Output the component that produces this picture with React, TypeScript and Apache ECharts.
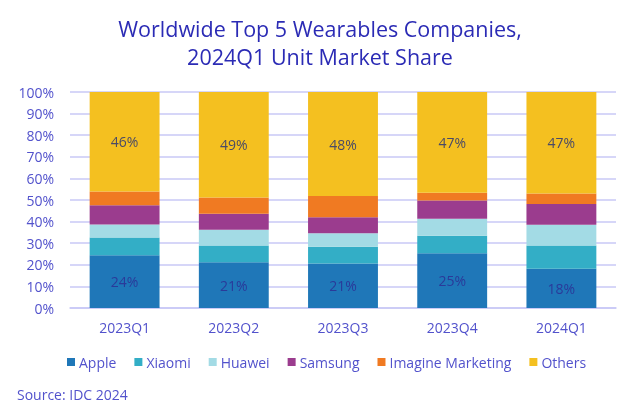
import React, { useEffect, useRef } from "react";
import * as echarts from "echarts";

const categories = ["2023Q1", "2023Q2", "2023Q3", "2023Q4", "2024Q1"];
const apple = [24.4, 21.2, 20.6, 25.3, 18.2];
const xiaomi = [8.2, 7.7, 7.8, 8.2, 10.7];
const huawei = [6.0, 7.3, 6.2, 7.8, 9.6];
const samsung = [9.0, 7.4, 7.4, 8.5, 9.6];
const imagine = [6.3, 7.6, 9.8, 3.6, 4.9];
const others = [46.1, 48.8, 48.2, 46.6, 47.0];

const seriesNames = ["Apple", "Xiaomi", "Huawei", "Samsung", "Imagine Marketing", "Others"];
const seriesData = [apple, xiaomi, huawei, samsung, imagine, others];
const colors = ["#1f77b8", "#33aec6", "#a3dbe5", "#9b3c8e", "#f07a22", "#f4c020"];

const FONT = "Open Sans";

export default function App() {
  const ref = useRef<HTMLDivElement>(null);
  useEffect(() => {
    if (!ref.current) return;
    const chart = echarts.init(ref.current, null, { renderer: "svg" });
    chart.setOption({
      animation: false,
      textStyle: { fontFamily: FONT },
      title: {
        text: "Worldwide Top 5 Wearables Companies,\n2024Q1 Unit Market Share",
        left: "center",
        top: 9,
        textStyle: {
          fontFamily: FONT,
          fontSize: 21.5,
          fontWeight: "normal",
          color: "#2b2bb5",
          lineHeight: 28,
        },
      },
      legend: {
        data: seriesNames,
        left: 62,
        top: 350,
        itemWidth: 8,
        itemHeight: 8,
        itemGap: 18,
        icon: "rect",
        textStyle: { fontFamily: FONT, fontSize: 14, color: "#5252cc", padding: [0, 0, 0, -1] },
      },
      graphic: [
        {
          type: "text",
          left: 17,
          top: 387,
          style: { text: "Source: IDC 2024", fontFamily: FONT, fontSize: 14, fill: "#5252cc" },
        },
      ],
      grid: { left: 70, right: 24, top: 92, bottom: 106 },
      xAxis: {
        type: "category",
        data: categories,
        axisTick: { show: false },
        axisLine: { lineStyle: { color: "#c8c8f6", width: 1.5 } },
        axisLabel: { fontFamily: FONT, fontSize: 14, color: "#5252cc", margin: 12 },
      },
      yAxis: {
        type: "value",
        min: 0,
        max: 100,
        interval: 10,
        axisLine: { show: false },
        axisTick: { show: false },
        splitLine: { lineStyle: { color: "#c8c8f6", width: 1.5 } },
        axisLabel: {
          fontFamily: FONT,
          fontSize: 14,
          color: "#5252cc",
          margin: 16,
          formatter: "{value}%",
        },
      },
      series: seriesNames.map((name, i) => ({
        name,
        type: "bar",
        stack: "total",
        barWidth: "64%",
        data: seriesData[i],
        itemStyle: { color: colors[i] },
        label:
          i === 0 || i === 5
            ? {
                show: true,
                position: "inside",
                fontFamily: FONT,
                fontSize: 14,
                color: i === 0 ? "#2a3a9a" : "#4a4a66",
                formatter: (p: any) => Math.round(p.value) + "%",
              }
            : { show: false },
      })),
    });
    return () => chart.dispose();
  }, []);
  return (
    <div
      ref={ref}
      style={{ position: "fixed", left: 0, top: 0, width: 640, height: 414 }}
    />
  );
}
